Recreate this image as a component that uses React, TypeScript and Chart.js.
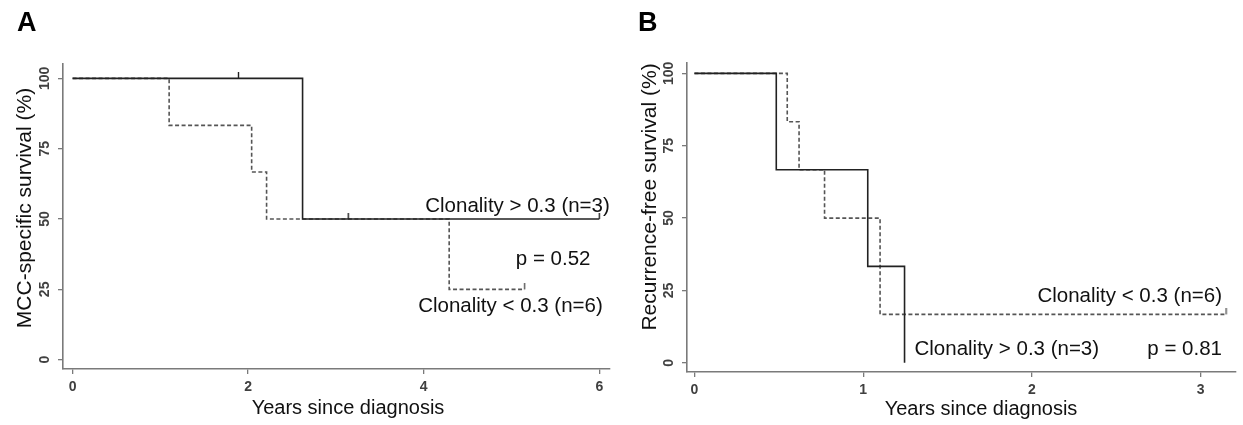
import React, { useEffect, useRef } from 'react';
import { Chart, registerables } from 'chart.js';

Chart.register(...registerables);

// ---------- Panel A: MCC-specific survival ----------
const aHighTimes = [0, 2.62, 6.0];
const aHighSurv = [100, 50, 50];
const aHighCensorTimes = [1.89, 3.14, 6.0];
const aHighCensorSurv = [100, 50, 50];
const aLowTimes = [0, 1.1, 2.04, 2.21, 4.29, 5.15];
const aLowSurv = [100, 83.3, 66.7, 50, 25, 25];
const aLowCensorTimes = [5.15];
const aLowCensorSurv = [25];
const aXTicks = [0, 2, 4, 6];

// ---------- Panel B: Recurrence-free survival ----------
const bHighTimes = [0, 0.485, 1.027, 1.245];
const bHighSurv = [100, 66.7, 33.3, 0];
const bLowTimes = [0, 0.55, 0.62, 0.771, 1.1, 3.15];
const bLowSurv = [100, 83.3, 66.7, 50, 16.7, 16.7];
const bLowCensorTimes = [3.15];
const bLowCensorSurv = [16.7];
const bXTicks = [0, 1, 2, 3];

const yTicks = [0, 25, 50, 75, 100];

const FONT = '"Liberation Sans", Arial, Helvetica, sans-serif';
const AXIS_COLOR = '#7a7a7a';
const TEXT_COLOR = '#111111';
const SOLID_COLOR = '#222222';
const DASH_COLOR = '#555555';

type Note = { text: string; x: number; y: number; align: CanvasTextAlign };

type Panel = {
  width: number;
  height: number;
  area: { left: number; top: number; right: number; bottom: number };
  xMin: number;
  xMax: number;
  yMin: number;
  yMax: number;
  xTicks: number[];
  letter: string;
  letterPos: [number, number];
  yTitle: string;
  yTitlePos: [number, number];
  xTitle: string;
  xTitlePos: [number, number];
  high: { t: number[]; s: number[]; ct: number[]; cs: number[] };
  low: { t: number[]; s: number[]; ct: number[]; cs: number[] };
  notes: Note[];
};

const panelA: Panel = {
  width: 620,
  height: 425,
  area: { left: 63, top: 64, right: 610, bottom: 369 },
  xMin: -0.109,
  xMax: 6.122,
  yMin: -3.3,
  yMax: 105.1,
  xTicks: aXTicks,
  letter: 'A',
  letterPos: [17, 31],
  yTitle: 'MCC-specific survival (%)',
  yTitlePos: [25, 208],
  xTitle: 'Years since diagnosis',
  xTitlePos: [348, 408],
  high: { t: aHighTimes, s: aHighSurv, ct: aHighCensorTimes, cs: aHighCensorSurv },
  low: { t: aLowTimes, s: aLowSurv, ct: aLowCensorTimes, cs: aLowCensorSurv },
  notes: [
    { text: 'Clonality > 0.3 (n=3)', x: 6.12, y: 52.5, align: 'right' },
    { text: 'p = 0.52', x: 5.9, y: 33.7, align: 'right' },
    { text: 'Clonality < 0.3 (n=6)', x: 6.04, y: 17.1, align: 'right' },
  ],
};

const panelB: Panel = {
  width: 623,
  height: 425,
  area: { left: 67, top: 63, right: 617, bottom: 372 },
  xMin: -0.044,
  xMax: 3.209,
  yMin: -3.2,
  yMax: 103.6,
  xTicks: bXTicks,
  letter: 'B',
  letterPos: [18, 31],
  yTitle: 'Recurrence-free survival (%)',
  yTitlePos: [30, 197],
  xTitle: 'Years since diagnosis',
  xTitlePos: [361, 409],
  high: { t: bHighTimes, s: bHighSurv, ct: [], cs: [] },
  low: { t: bLowTimes, s: bLowSurv, ct: bLowCensorTimes, cs: bLowCensorSurv },
  notes: [
    { text: 'Clonality < 0.3 (n=6)', x: 3.126, y: 21, align: 'right' },
    { text: 'Clonality > 0.3 (n=3)', x: 1.304, y: 2.56, align: 'left' },
    { text: 'p = 0.81', x: 3.126, y: 2.56, align: 'right' },
  ],
};

function makeCensorMark(color: string): HTMLCanvasElement {
  const c = document.createElement('canvas');
  c.width = 3;
  c.height = 12;
  const g = c.getContext('2d')!;
  g.fillStyle = color;
  g.fillRect(0.8, 0, 1.4, 6);
  return c;
}

function zip(t: number[], s: number[]) {
  return t.map((x, i) => ({ x, y: s[i] }));
}

function buildChart(canvas: HTMLCanvasElement, p: Panel) {
  const solidMark = makeCensorMark(SOLID_COLOR);
  const dashMark = makeCensorMark(DASH_COLOR);

  const textPlugin = {
    id: 'kmText',
    afterDraw(chart: any) {
      const ctx: CanvasRenderingContext2D = chart.ctx;
      const xs = chart.scales.x;
      const ys = chart.scales.y;
      ctx.save();
      ctx.fillStyle = '#000';
      ctx.textBaseline = 'alphabetic';
      ctx.textAlign = 'left';
      ctx.font = `bold 27px ${FONT}`;
      ctx.fillText(p.letter, p.letterPos[0], p.letterPos[1]);

      ctx.fillStyle = TEXT_COLOR;
      ctx.font = `21px ${FONT}`;
      ctx.save();
      ctx.translate(p.yTitlePos[0], p.yTitlePos[1]);
      ctx.rotate(-Math.PI / 2);
      ctx.textAlign = 'center';
      ctx.textBaseline = 'middle';
      ctx.fillText(p.yTitle, 0, 0);
      ctx.restore();

      ctx.font = `20px ${FONT}`;
      ctx.textAlign = 'center';
      ctx.textBaseline = 'middle';
      ctx.fillText(p.xTitle, p.xTitlePos[0], p.xTitlePos[1]);

      ctx.font = `20.5px ${FONT}`;
      ctx.textBaseline = 'alphabetic';
      for (const n of p.notes) {
        ctx.textAlign = n.align;
        ctx.fillText(n.text, xs.getPixelForValue(n.x), ys.getPixelForValue(n.y));
      }
      ctx.restore();
    },
  };

  return new Chart(canvas, {
    type: 'line',
    data: {
      datasets: [
        {
          label: 'Clonality > 0.3',
          data: zip(p.high.t, p.high.s),
          borderColor: SOLID_COLOR,
          borderWidth: 1.6,
          stepped: 'before',
          pointRadius: 0,
          fill: false,
        },
        {
          label: 'Clonality > 0.3 censored',
          type: 'scatter',
          data: zip(p.high.ct, p.high.cs),
          pointStyle: solidMark,
          pointRadius: 6,
          showLine: false,
        },
        {
          label: 'Clonality < 0.3',
          data: zip(p.low.t, p.low.s),
          borderColor: DASH_COLOR,
          borderWidth: 1.6,
          borderDash: [4, 2.5],
          stepped: 'before',
          pointRadius: 0,
          fill: false,
        },
        {
          label: 'Clonality < 0.3 censored',
          type: 'scatter',
          data: zip(p.low.ct, p.low.cs),
          pointStyle: dashMark,
          pointRadius: 6,
          showLine: false,
        },
      ] as any,
    },
    options: {
      animation: false,
      responsive: false,
      maintainAspectRatio: false,
      events: [],
      layout: {
        padding: {
          left: 0,
          top: p.area.top,
          right: p.width - p.area.right,
          bottom: 0,
        },
      },
      plugins: {
        legend: { display: false },
        tooltip: { enabled: false },
        title: { display: false },
      },
      scales: {
        x: {
          type: 'linear',
          min: p.xMin,
          max: p.xMax,
          afterBuildTicks: (s: any) => {
            s.ticks = p.xTicks.map((v) => ({ value: v }));
          },
          afterFit: (s: any) => {
            s.height = p.height - p.area.bottom;
          },
          grid: {
            display: true,
            drawOnChartArea: false,
            drawTicks: true,
            tickLength: 5,
            color: AXIS_COLOR,
            lineWidth: 1.3,
          },
          border: { display: true, color: AXIS_COLOR, width: 1.6 },
          ticks: {
            autoSkip: false,
            maxRotation: 0,
            minRotation: 0,
            padding: 5,
            color: '#404040',
            font: { family: FONT, size: 14, weight: 'bold' },
          },
        },
        y: {
          type: 'linear',
          min: p.yMin,
          max: p.yMax,
          afterBuildTicks: (s: any) => {
            s.ticks = yTicks.map((v) => ({ value: v }));
          },
          afterFit: (s: any) => {
            s.width = p.area.left;
          },
          grid: {
            display: true,
            drawOnChartArea: false,
            drawTicks: true,
            tickLength: 5,
            color: AXIS_COLOR,
            lineWidth: 1.3,
          },
          border: { display: true, color: AXIS_COLOR, width: 1.6 },
          ticks: {
            autoSkip: false,
            minRotation: 90,
            maxRotation: 90,
            crossAlign: 'center',
            padding: 1,
            color: '#404040',
            font: { family: FONT, size: 14, weight: 'bold' },
          },
        },
      },
    } as any,
    plugins: [textPlugin],
  });
}

function KMPanel({ panel, left }: { panel: Panel; left: number }) {
  const ref = useRef<HTMLCanvasElement | null>(null);
  useEffect(() => {
    if (!ref.current) return;
    const chart = buildChart(ref.current, panel);
    return () => chart.destroy();
  }, [panel]);
  return (
    <canvas
      ref={ref}
      width={panel.width}
      height={panel.height}
      style={{
        position: 'absolute',
        left,
        top: 0,
        width: panel.width,
        height: panel.height,
      }}
    />
  );
}

export default function App() {
  return (
    <div
      style={{
        position: 'absolute',
        left: 0,
        top: 0,
        width: 1243,
        height: 425,
        background: '#ffffff',
        overflow: 'hidden',
      }}
    >
      <KMPanel panel={panelA} left={0} />
      <KMPanel panel={panelB} left={620} />
    </div>
  );
}
